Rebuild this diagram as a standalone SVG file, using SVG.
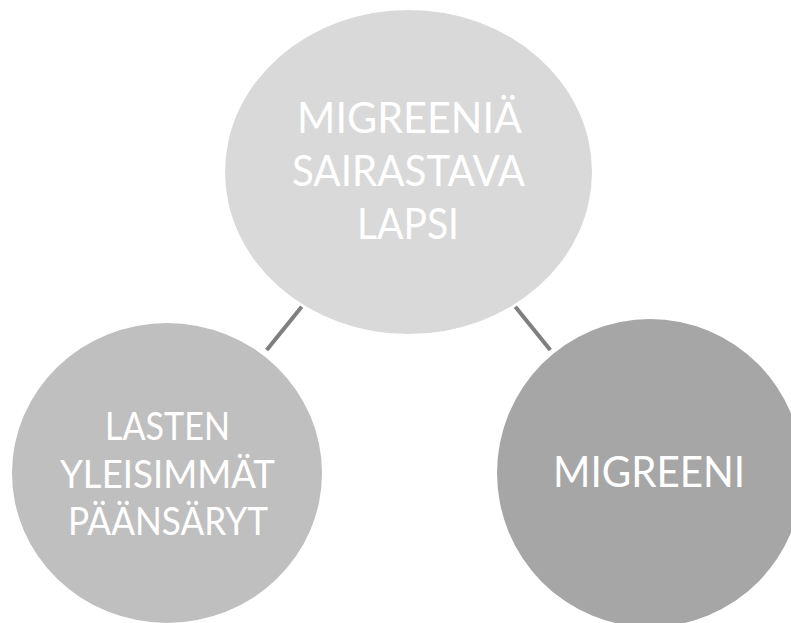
<svg xmlns="http://www.w3.org/2000/svg" width="791" height="623" viewBox="0 0 791 623">
  <style>
    .lbl { font-family: Lato, "Liberation Sans", "DejaVu Sans", sans-serif; font-weight: 400; fill: #ffffff; text-anchor: middle; }
    .big { font-size: 42px; }
    .mid { font-size: 38.5px; }
    .conn { stroke: #7f7f7f; stroke-width: 4; fill: none; stroke-linecap: butt; }
  </style>
  <rect width="791" height="623" fill="#ffffff"/>
  <g id="connectors">
    <line class="conn" x1="301.7" y1="306.7" x2="266.7" y2="350"/>
    <line class="conn" x1="515.3" y1="306.7" x2="550.3" y2="350"/>
  </g>
  <g id="node-top">
    <ellipse cx="408.5" cy="172" rx="183.5" ry="162" fill="#d9d9d9"/>
    <text class="lbl big" x="409.5" y="133.3" textLength="225" lengthAdjust="spacingAndGlyphs">MIGREENIÄ</text>
    <text class="lbl big" x="408.5" y="186" textLength="233" lengthAdjust="spacingAndGlyphs">SAIRASTAVA</text>
    <text class="lbl big" x="408" y="239" textLength="102" lengthAdjust="spacingAndGlyphs">LAPSI</text>
  </g>
  <g id="node-left">
    <ellipse cx="167" cy="473" rx="155" ry="150" fill="#bfbfbf"/>
    <text class="lbl mid" x="167.5" y="440" textLength="125" lengthAdjust="spacingAndGlyphs">LASTEN</text>
    <text class="lbl mid" x="167.5" y="488" textLength="215" lengthAdjust="spacingAndGlyphs">YLEISIMMÄT</text>
    <text class="lbl mid" x="168" y="535" textLength="200" lengthAdjust="spacingAndGlyphs">PÄÄNSÄRYT</text>
  </g>
  <g id="node-right">
    <ellipse cx="650" cy="473" rx="153" ry="154" fill="#a6a6a6"/>
    <text class="lbl big" x="649" y="487" textLength="192" lengthAdjust="spacingAndGlyphs">MIGREENI</text>
  </g>
</svg>
